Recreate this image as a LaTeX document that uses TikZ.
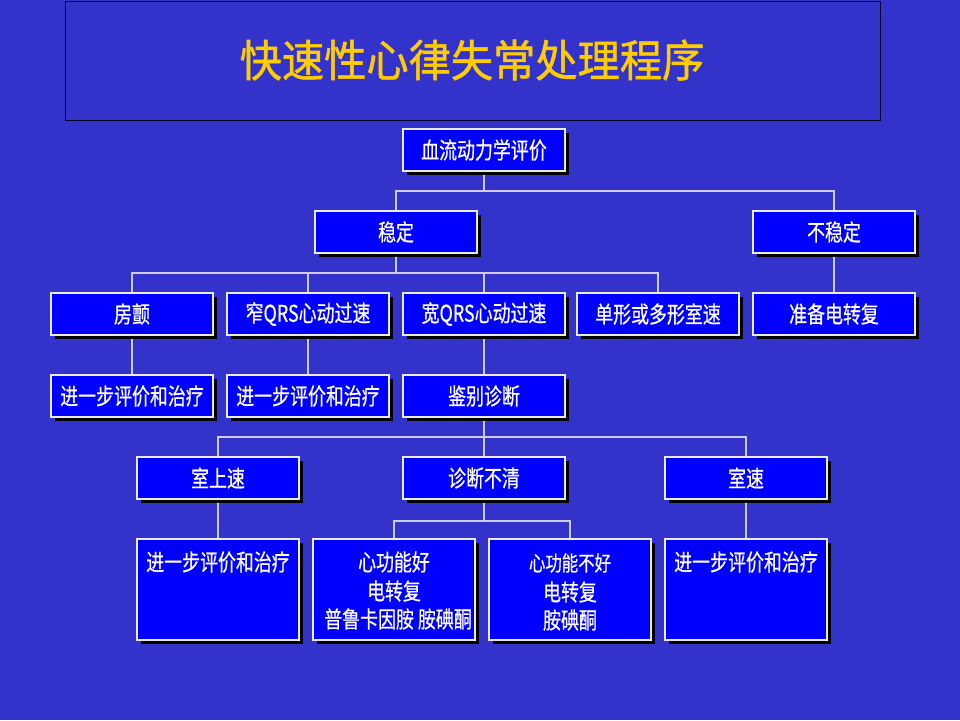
\documentclass[tikz,border=0pt]{standalone}
\usepackage{fontspec}
\newfontfamily\cjk[FakeStretch=0.78,FakeBold=0.6]{Noto Sans CJK SC}
\newfontfamily\cjktitle[FakeStretch=0.96,FakeBold=1.2]{Noto Sans CJK SC}
\usetikzlibrary{shadows}
\definecolor{bgblue}{RGB}{51,51,204}
\definecolor{boxblue}{RGB}{0,0,255}
\definecolor{ttlyellow}{RGB}{255,204,0}
\definecolor{linecol}{RGB}{205,205,235}
\pgfdeclarelayer{bg}
\pgfdeclarelayer{lines}
\pgfsetlayers{bg,lines,main}
\tikzset{
  box/.style={draw=white!92!black, fill=boxblue, line width=1.1pt,
    minimum width=162pt, minimum height=42pt, inner sep=0pt, text=white,
    font=\cjk\fontsize{23}{27}\selectfont,
    general shadow={fill=black, shadow xshift=4pt, shadow yshift=-4pt}},
  tallbox/.style={box, minimum height=101pt},
  txt/.style={inner sep=0pt, text=white, font=\cjk\fontsize{23}{27}\selectfont},
  conn/.style={draw=linecol, line width=1.2pt}
}
\begin{document}
\begin{tikzpicture}[x=1pt,y=-1pt]
\begin{pgfonlayer}{bg}
\fill[bgblue] (0,0) rectangle (960,720);
\end{pgfonlayer}
\useasboundingbox (0,0) rectangle (960,720);
% title
\node[draw=black!85!blue, line width=0.8pt, minimum width=815pt, minimum height=119pt, inner sep=0pt] (titlebox) at (472.5,60.5) {};
\node[text=ttlyellow, font=\cjktitle\fontsize{44}{50}\selectfont, inner sep=0pt] (title) at (472,60) {快速性心律失常处理程序};
% boxes
\node[box] (hemo) at (484,150) {血流动力学评价};
\node[box] (stable) at (396,232) {稳定};
\node[box] (unstable) at (834,232) {不稳定};
\node[box] (af) at (132,314) {房颤};
\node[box] (narrow) at (308,314) {窄QRS心动过速};
\node[box] (wide) at (484,314) {宽QRS心动过速};
\node[box] (mono) at (658,314) {单形或多形室速};
\node[box] (prep) at (834,314) {准备电转复};
\node[box] (eval1) at (132,396) {进一步评价和治疗};
\node[box] (eval2) at (308,396) {进一步评价和治疗};
\node[box] (diff) at (484,396) {鉴别诊断};
\node[box] (svt) at (218,478) {室上速};
\node[box] (unclear) at (484,478) {诊断不清};
\node[box] (vt) at (746,478) {室速};
\node[tallbox] (eval3) at (218,589.5) {};
\node[tallbox] (good) at (394,589.5) {};
\node[tallbox] (bad) at (570,589.5) {};
\node[tallbox] (eval4) at (746,589.5) {};
\node[txt] (eval3t) at (218,562) {进一步评价和治疗};
\node[txt] (good1) at (394,562) {心功能好};
\node[txt] (good2) at (394,591) {电转复};
\node[txt] (good3) at (398,619) {普鲁卡因胺 胺碘酮};
\node[txt, font=\cjk\fontsize{21}{25}\selectfont] (bad1) at (570,563) {心功能不好};
\node[txt] (bad2) at (570,592) {电转复};
\node[txt] (bad3) at (570,620) {胺碘酮};
\node[txt] (eval4t) at (746,562) {进一步评价和治疗};
% connectors
\coordinate (j1) at (484,191);
\coordinate (j2) at (396,273);
\coordinate (j3) at (484,437);
\coordinate (j4) at (484,521);
\begin{pgfonlayer}{lines}
\draw[conn] (hemo.south) -- (j1);
\draw[conn] (stable.north) |- (j1) -| (unstable.north);
\draw[conn] (stable.south) -- (j2);
\draw[conn] (af.north) |- (j2) -| (mono.north);
\draw[conn] (narrow.north) -- (narrow.north |- j2);
\draw[conn] (wide.north) -- (wide.north |- j2);
\draw[conn] (unstable.south) -- (prep.north);
\draw[conn] (af.south) -- (eval1.north);
\draw[conn] (narrow.south) -- (eval2.north);
\draw[conn] (wide.south) -- (diff.north);
\draw[conn] (diff.south) -- (j3);
\draw[conn] (svt.north) |- (j3) -| (vt.north);
\draw[conn] (unclear.north) -- (j3);
\draw[conn] (svt.south) -- (eval3.north);
\draw[conn] (vt.south) -- (eval4.north);
\draw[conn] (unclear.south) -- (j4);
\draw[conn] (good.north) |- (j4) -| (bad.north);
\end{pgfonlayer}
\end{tikzpicture}
\end{document}
